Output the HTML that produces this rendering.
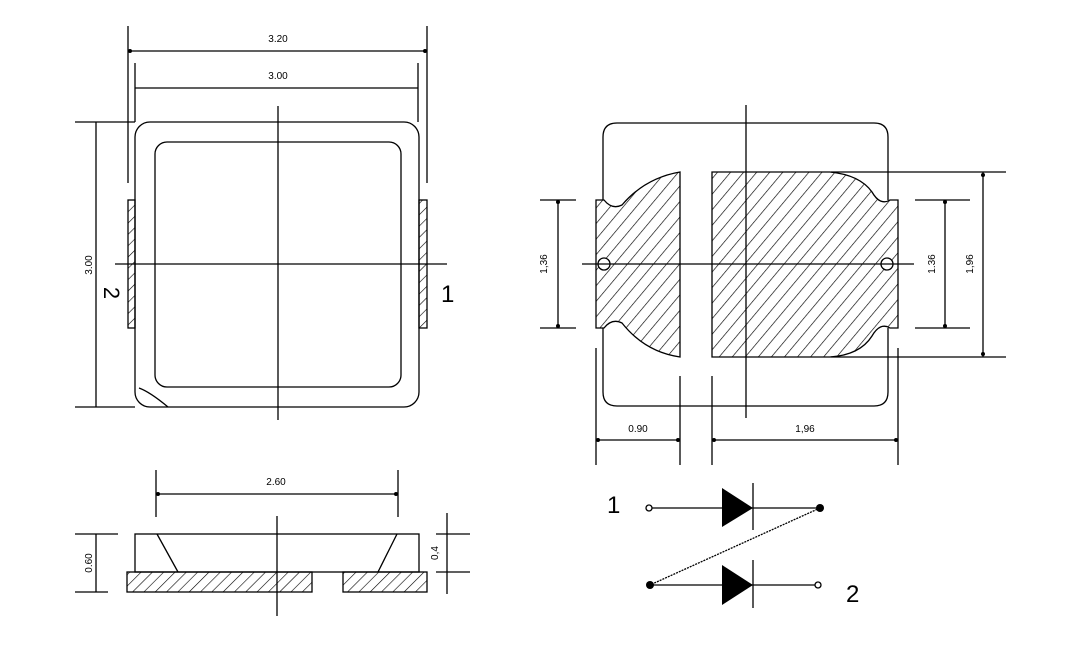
<!DOCTYPE html>
<html><head><meta charset="utf-8"><style>
html,body{margin:0;padding:0;background:#fff}
svg{display:block}
text{font-family:"Liberation Sans",sans-serif;fill:#000}
</style></head><body>
<svg width="1069" height="660" viewBox="0 0 1069 660" xmlns="http://www.w3.org/2000/svg">
<defs>
<pattern id="h" patternUnits="userSpaceOnUse" width="8" height="8" patternTransform="rotate(45)">
<line x1="0" y1="0" x2="0" y2="8" stroke="#000" stroke-width="1.2"/>
</pattern>
<pattern id="h2" patternUnits="userSpaceOnUse" width="10" height="10" patternTransform="rotate(40)">
<line x1="0" y1="0" x2="0" y2="10" stroke="#000" stroke-width="1.3"/>
</pattern>
</defs>
<g stroke="#000" stroke-width="1.3" fill="none">
<!-- TOP LEFT VIEW -->
<line x1="128" y1="26" x2="128" y2="183"/>
<line x1="427" y1="26" x2="427" y2="183"/>
<line x1="129" y1="51" x2="427" y2="51"/>
<line x1="135" y1="63" x2="135" y2="122"/>
<line x1="418" y1="63" x2="418" y2="122"/>
<line x1="135" y1="88" x2="418" y2="88"/>
<line x1="75" y1="122" x2="135" y2="122"/>
<line x1="75" y1="407" x2="135" y2="407"/>
<line x1="96" y1="122" x2="96" y2="407"/>
<rect x="135" y="122" width="284" height="285" rx="15"/>
<rect x="155" y="142" width="246" height="245" rx="12"/>
<path d="M139,388 Q150,392 168,407"/>
<rect x="128" y="200" width="7" height="128" fill="url(#h)"/>
<rect x="419" y="200" width="8" height="128" fill="url(#h)"/>
<line x1="278" y1="106" x2="278" y2="420"/>
<line x1="115" y1="264" x2="447" y2="264"/>
<!-- BOTTOM LEFT VIEW -->
<line x1="156" y1="470" x2="156" y2="517"/>
<line x1="398" y1="470" x2="398" y2="517"/>
<line x1="156" y1="494" x2="398" y2="494"/>
<rect x="135" y="534" width="284" height="38"/>
<line x1="157" y1="534" x2="178" y2="572"/>
<line x1="397" y1="534" x2="378" y2="572"/>
<rect x="127" y="572" width="185" height="20" fill="url(#h)"/>
<rect x="343" y="572" width="84" height="20" fill="url(#h)"/>
<line x1="277" y1="516" x2="277" y2="616"/>
<line x1="75" y1="534" x2="118" y2="534"/>
<line x1="75" y1="592" x2="108" y2="592"/>
<line x1="96" y1="534" x2="96" y2="592"/>
<line x1="447" y1="513" x2="447" y2="594"/>
<line x1="436" y1="534" x2="470" y2="534"/>
<line x1="436" y1="572" x2="470" y2="572"/>
<!-- RIGHT VIEW -->
<path d="M603,200 L603,137 Q603,123 617,123 L874,123 Q888,123 888,137 L888,200"/>
<path d="M603,328 L603,392 Q603,406 617,406 L874,406 Q888,406 888,392 L888,328"/>
<path d="M596,200 L604,200 Q612,210 622,205 Q645,178 680,172 L680,357 Q645,352 622,323 Q612,318 604,328 L596,328 Z" fill="url(#h2)"/>
<path d="M712,172 L830,172 Q860,175 872,192 Q880,206 890,200 L898,200 L898,328 L890,328 Q880,322 872,336 Q860,355 830,357 L712,357 Z" fill="url(#h2)"/>
<circle cx="604" cy="264" r="6" fill="#fff"/>
<circle cx="887" cy="264" r="6" fill="#fff"/>
<line x1="746" y1="105" x2="746" y2="418"/>
<line x1="582" y1="264" x2="914" y2="264"/>
<line x1="540" y1="200" x2="576" y2="200"/>
<line x1="540" y1="328" x2="576" y2="328"/>
<line x1="558" y1="200" x2="558" y2="328"/>
<line x1="915" y1="200" x2="970" y2="200"/>
<line x1="915" y1="328" x2="970" y2="328"/>
<line x1="945" y1="200" x2="945" y2="328"/>
<line x1="831" y1="172" x2="1006" y2="172"/>
<line x1="831" y1="357" x2="1006" y2="357"/>
<line x1="983" y1="172" x2="983" y2="357"/>
<line x1="596" y1="348" x2="596" y2="465"/>
<line x1="680" y1="376" x2="680" y2="465"/>
<line x1="712" y1="376" x2="712" y2="465"/>
<line x1="898" y1="348" x2="898" y2="465"/>
<line x1="596" y1="440" x2="680" y2="440"/>
<line x1="712" y1="440" x2="898" y2="440"/>
<!-- DIODES -->
<line x1="652" y1="508" x2="820" y2="508"/>
<line x1="753" y1="483" x2="753" y2="530"/>
<line x1="820" y1="508" x2="650" y2="585" stroke-dasharray="2,1"/>
<line x1="650" y1="585" x2="815" y2="585"/>
<line x1="753" y1="560" x2="753" y2="608"/>
<circle cx="649" cy="508" r="3" fill="#fff"/>
<circle cx="818" cy="585" r="3" fill="#fff"/>
</g>
<g fill="#000">
<polygon points="722,488 753,508 722,527"/>
<polygon points="722,565 753,585 722,605"/>
<circle cx="820" cy="508" r="4"/>
<circle cx="650" cy="585" r="4"/>
<circle cx="130" cy="51" r="2"/><circle cx="425" cy="51" r="2"/>
<circle cx="558" cy="202" r="2"/><circle cx="558" cy="326" r="2"/>
<circle cx="945" cy="202" r="2"/><circle cx="945" cy="326" r="2"/>
<circle cx="983" cy="175" r="2"/><circle cx="983" cy="354" r="2"/>
<circle cx="598" cy="440" r="2"/><circle cx="678" cy="440" r="2"/>
<circle cx="714" cy="440" r="2"/><circle cx="896" cy="440" r="2"/>
<circle cx="158" cy="494" r="2"/><circle cx="396" cy="494" r="2"/>
</g>
<g font-size="10">
<text x="278" y="42" text-anchor="middle">3.20</text>
<text x="278" y="79" text-anchor="middle">3.00</text>
<text x="276" y="485" text-anchor="middle">2.60</text>
<text x="638" y="432" text-anchor="middle">0.90</text>
<text x="805" y="432" text-anchor="middle">1,96</text>
<text transform="translate(92,265) rotate(-90)" text-anchor="middle">3.00</text>
<text transform="translate(92,563) rotate(-90)" text-anchor="middle">0.60</text>
<text transform="translate(438,553) rotate(-90)" text-anchor="middle">0,4</text>
<text transform="translate(547,264) rotate(-90)" text-anchor="middle">1,36</text>
<text transform="translate(935,264) rotate(-90)" text-anchor="middle">1.36</text>
<text transform="translate(973,264) rotate(-90)" text-anchor="middle">1,96</text>
</g>
<g font-size="24">
<text transform="translate(104,293) rotate(90)" text-anchor="middle" font-size="22">2</text>
<text x="441" y="302">1</text>
<text x="607" y="513">1</text>
<text x="846" y="602">2</text>
</g>
</svg>
</body></html>
